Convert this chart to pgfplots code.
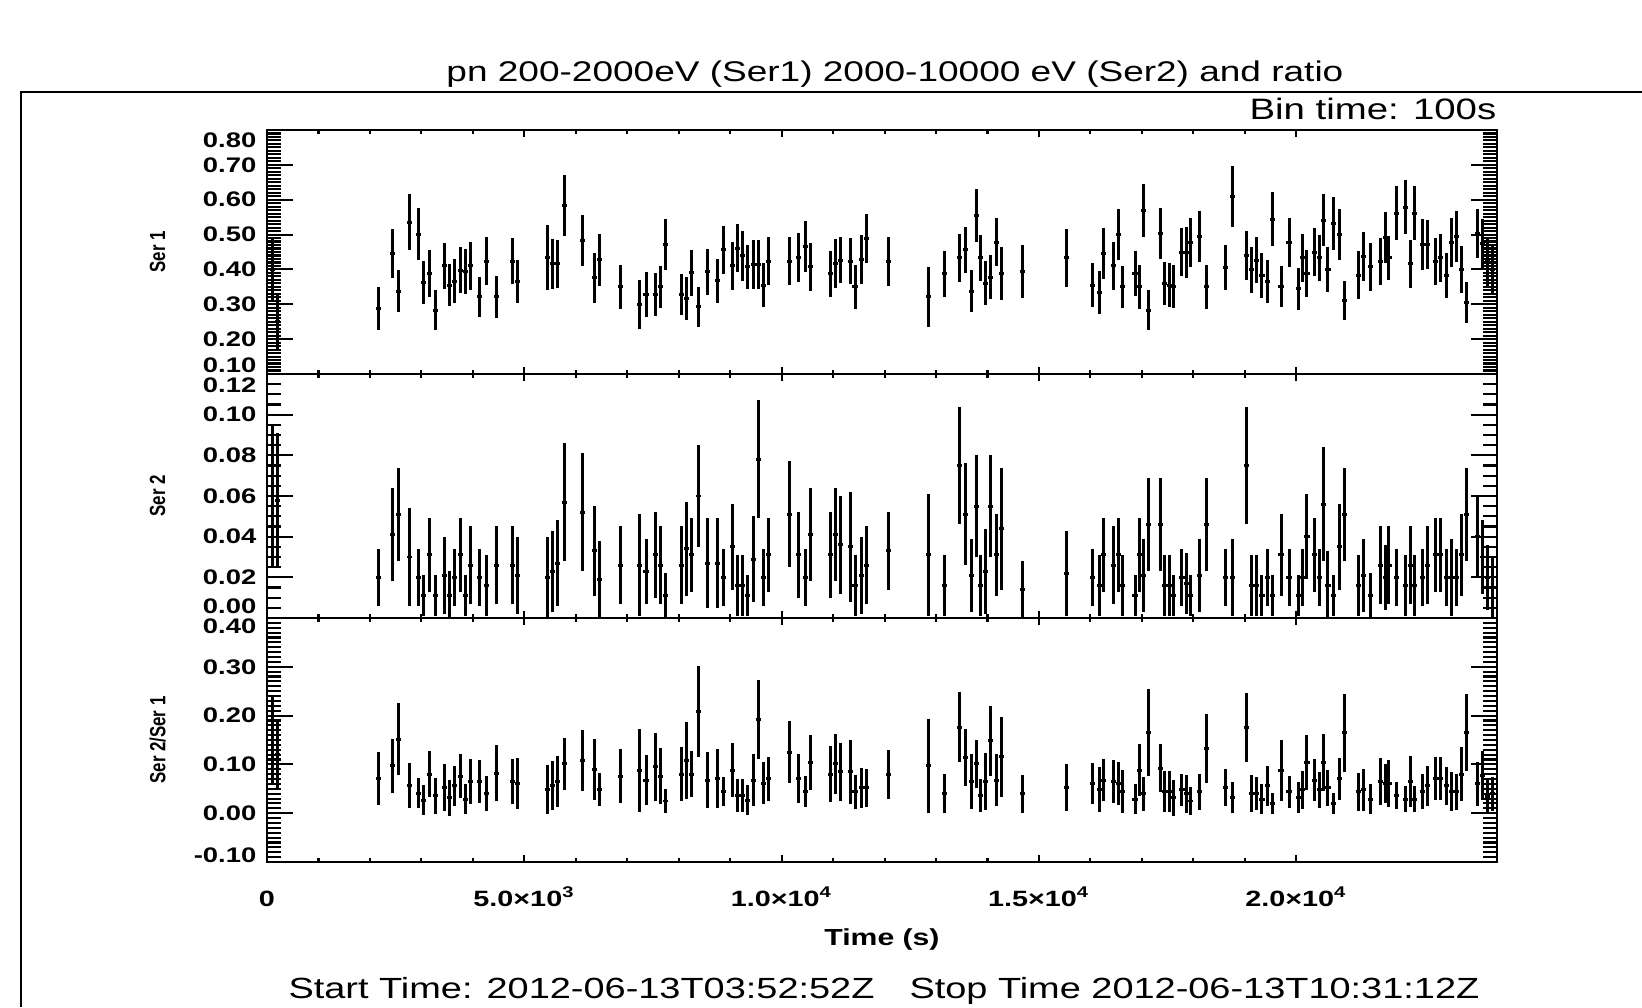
\documentclass[border=0pt]{standalone}
\usepackage{pgfplots}
\usepackage{pgfplotstable}
\usepackage{fontspec}
\pgfplotsset{compat=1.18}
\setmainfont[FakeStretch=1.3]{Liberation Sans}
\newfontfamily\rotfont{Liberation Sans}
\newcommand{\sh}[2]{\raisebox{#1}[\height][\depth]{#2}}

\pgfplotstableread{
t v1 e1 v2 e2 v3 e3
100 0.40 0.09 0.060 0.035 0.15 0.09
200 0.25 0.08 0.058 0.033 0.12 0.07
2174 0.288 0.061 0.020 0.014 0.071 0.054
2443 0.445 0.071 0.041 0.023 0.097 0.056
2548 0.338 0.059 0.051 0.023 0.152 0.073
2765 0.535 0.080 0.030 0.024 0.056 0.046
2939 0.501 0.074 0.020 0.014 0.041 0.031
3035 0.362 0.062 0.011 0.010 0.027 0.030
3165 0.388 0.068 0.031 0.018 0.080 0.047
3270 0.283 0.057 0.011 0.010 0.036 0.037
3443 0.410 0.065 0.021 0.019 0.052 0.048
3539 0.355 0.060 0.011 0.012 0.032 0.037
3635 0.366 0.063 0.020 0.014 0.056 0.041
3765 0.397 0.066 0.031 0.018 0.076 0.045
3861 0.394 0.065 0.011 0.010 0.029 0.030
3948 0.410 0.069 0.026 0.019 0.065 0.047
4130 0.321 0.057 0.020 0.014 0.065 0.045
4270 0.423 0.069 0.016 0.015 0.041 0.036
4452 0.321 0.059 0.026 0.019 0.082 0.058
4774 0.423 0.066 0.026 0.019 0.065 0.047
4861 0.366 0.062 0.021 0.019 0.061 0.053
5452 0.433 0.093 0.020 0.020 0.048 0.050
5548 0.416 0.072 0.023 0.020 0.056 0.050
5643 0.416 0.069 0.027 0.021 0.065 0.053
5783 0.584 0.088 0.057 0.029 0.101 0.053
6130 0.484 0.073 0.052 0.029 0.108 0.062
6365 0.376 0.071 0.033 0.022 0.090 0.063
6461 0.428 0.075 0.019 0.019 0.048 0.034
6861 0.350 0.063 0.026 0.019 0.076 0.055
7235 0.300 0.071 0.026 0.025 0.087 0.085
7365 0.328 0.064 0.023 0.016 0.068 0.051
7548 0.328 0.062 0.031 0.021 0.095 0.069
7643 0.350 0.060 0.026 0.019 0.076 0.058
7739 0.471 0.073 0.011 0.011 0.025 0.025
8052 0.328 0.060 0.026 0.019 0.080 0.056
8148 0.317 0.061 0.034 0.023 0.108 0.079
8243 0.390 0.065 0.031 0.018 0.080 0.047
8383 0.293 0.057 0.060 0.025 0.208 0.093
8557 0.394 0.066 0.027 0.022 0.068 0.057
8748 0.367 0.064 0.027 0.022 0.071 0.061
8878 0.456 0.068 0.020 0.014 0.044 0.030
9052 0.411 0.069 0.035 0.021 0.088 0.055
9148 0.461 0.068 0.016 0.015 0.036 0.034
9243 0.439 0.071 0.016 0.015 0.036 0.034
9330 0.407 0.063 0.011 0.010 0.027 0.030
9461 0.414 0.070 0.029 0.021 0.068 0.053
9557 0.414 0.070 0.078 0.029 0.192 0.080
9652 0.355 0.063 0.020 0.014 0.061 0.043
9739 0.423 0.069 0.031 0.018 0.071 0.045
10148 0.423 0.069 0.051 0.026 0.125 0.063
10330 0.435 0.070 0.031 0.021 0.071 0.051
10461 0.466 0.073 0.020 0.014 0.044 0.032
10557 0.407 0.069 0.041 0.023 0.104 0.057
10957 0.388 0.066 0.031 0.021 0.080 0.057
11052 0.416 0.070 0.041 0.023 0.101 0.061
11148 0.426 0.066 0.036 0.024 0.085 0.059
11330 0.423 0.066 0.035 0.027 0.085 0.066
11426 0.350 0.063 0.016 0.015 0.044 0.035
11557 0.428 0.070 0.021 0.019 0.052 0.041
11652 0.489 0.071 0.026 0.019 0.052 0.039
12070 0.423 0.070 0.033 0.019 0.080 0.050
12855 0.321 0.085 0.031 0.030 0.097 0.097
13170 0.388 0.066 0.016 0.015 0.040 0.040
13459 0.433 0.070 0.075 0.029 0.176 0.072
13578 0.456 0.067 0.051 0.025 0.114 0.058
13681 0.338 0.061 0.021 0.018 0.065 0.057
13778 0.555 0.077 0.055 0.025 0.101 0.049
13867 0.433 0.066 0.016 0.015 0.036 0.034
13956 0.361 0.064 0.023 0.021 0.065 0.059
14052 0.378 0.064 0.055 0.025 0.148 0.071
14178 0.478 0.069 0.031 0.020 0.068 0.053
14274 0.388 0.077 0.044 0.030 0.116 0.082
14681 0.394 0.076 0.014 0.014 0.040 0.039
15541 0.433 0.082 0.022 0.021 0.052 0.048
16037 0.355 0.063 0.020 0.014 0.060 0.042
16170 0.333 0.062 0.016 0.015 0.048 0.046
16259 0.445 0.073 0.031 0.018 0.068 0.043
16444 0.410 0.069 0.026 0.019 0.065 0.045
16541 0.500 0.073 0.031 0.018 0.060 0.044
16630 0.350 0.061 0.016 0.015 0.044 0.044
16867 0.388 0.065 0.011 0.010 0.029 0.030
16956 0.350 0.063 0.031 0.018 0.088 0.053
17037 0.568 0.076 0.021 0.018 0.040 0.035
17133 0.283 0.057 0.046 0.023 0.165 0.089
17356 0.504 0.073 0.046 0.023 0.092 0.049
17444 0.359 0.062 0.016 0.015 0.044 0.042
17533 0.355 0.062 0.016 0.015 0.044 0.042
17622 0.350 0.062 0.011 0.010 0.032 0.037
17778 0.449 0.069 0.020 0.014 0.048 0.033
17859 0.449 0.074 0.017 0.015 0.040 0.039
17941 0.478 0.070 0.011 0.010 0.025 0.028
18126 0.494 0.073 0.021 0.018 0.044 0.037
18259 0.350 0.063 0.046 0.023 0.133 0.071
18630 0.405 0.064 0.020 0.014 0.052 0.038
18763 0.610 0.088 0.020 0.019 0.032 0.031
19037 0.440 0.071 0.075 0.029 0.176 0.071
19126 0.399 0.066 0.016 0.015 0.040 0.038
19222 0.427 0.065 0.016 0.015 0.040 0.034
19333 0.383 0.064 0.011 0.010 0.029 0.030
19444 0.366 0.062 0.020 0.014 0.056 0.041
19533 0.544 0.077 0.011 0.010 0.020 0.021
19704 0.350 0.059 0.031 0.020 0.087 0.063
19859 0.478 0.070 0.020 0.014 0.044 0.033
20037 0.345 0.060 0.011 0.010 0.032 0.031
20126 0.433 0.068 0.020 0.014 0.048 0.039
20207 0.388 0.067 0.040 0.021 0.104 0.057
20348 0.449 0.069 0.031 0.018 0.068 0.043
20444 0.433 0.067 0.020 0.014 0.048 0.037
20533 0.541 0.075 0.056 0.028 0.104 0.058
20615 0.400 0.065 0.016 0.017 0.052 0.037
20719 0.533 0.076 0.011 0.010 0.020 0.021
20837 0.500 0.073 0.035 0.021 0.071 0.043
20941 0.310 0.056 0.051 0.023 0.165 0.080
21207 0.383 0.069 0.016 0.015 0.044 0.039
21311 0.437 0.069 0.021 0.018 0.048 0.043
21444 0.407 0.069 0.011 0.011 0.029 0.030
21630 0.422 0.068 0.026 0.019 0.065 0.048
21726 0.492 0.074 0.020 0.016 0.061 0.040
21800 0.433 0.064 0.026 0.019 0.060 0.048
21948 0.561 0.077 0.020 0.014 0.036 0.027
22126 0.579 0.077 0.016 0.015 0.029 0.027
22215 0.416 0.068 0.026 0.019 0.065 0.053
22304 0.561 0.077 0.016 0.015 0.029 0.027
22444 0.471 0.073 0.020 0.014 0.044 0.036
22541 0.471 0.071 0.026 0.019 0.056 0.041
22704 0.422 0.067 0.031 0.018 0.071 0.044
22800 0.433 0.070 0.031 0.018 0.071 0.044
22926 0.383 0.065 0.020 0.014 0.056 0.039
23015 0.478 0.070 0.020 0.019 0.044 0.040
23111 0.495 0.073 0.020 0.014 0.044 0.037
23207 0.400 0.067 0.031 0.020 0.080 0.055
23304 0.305 0.058 0.051 0.023 0.165 0.079
23520 0.503 0.070 0.040 0.020 0.060 0.045
23620 0.475 0.070 0.030 0.018 0.078 0.050
23720 0.422 0.070 0.020 0.016 0.035 0.035
23820 0.400 0.070 0.015 0.015 0.040 0.035
}\lcdata

\pgfplotsset{
  panel/.style={
    scale only axis, width=12.30cm, height=2.44cm,
    xmin=0, xmax=23900, scaled x ticks=false, scaled y ticks=false,
    xtick={0,5000,10000,15000,20000}, minor x tick num=4,
    xtick pos=both, ytick pos=both,
    tick align=inside,
    major tick length=0.26cm, minor tick length=0.14cm,
    xtick style={/pgfplots/major tick length=0.07cm,/pgfplots/minor tick length=0.04cm},
    axis line style={line width=0.8pt},
    every tick/.style={black, line width=0.6pt},
    yticklabel style={font=\fontsize{6}{7}\selectfont\bfseries, inner sep=0pt, xshift=-0.1cm},
    ylabel style={at={(axis description cs:-0.089,0.5)}, anchor=center,
      font=\fontsize{4.8}{5}\rotfont\bfseries},
    clip=true,
  },
  errs/.style={draw=none, mark=none,
    error bars/.cd, x dir=both, x fixed=50, y dir=both, y explicit,
    error mark=none, error bar style={draw=black, solid, line width=0.85pt}},
}

\begin{document}
\begin{tikzpicture}[x=1cm,y=1cm]
\path[use as bounding box] (0,0) rectangle (16.42,10.07);
\draw[line width=0.7pt] (0.21,0) -- (0.21,9.15) -- (16.42,9.15);

\node[font=\fontsize{8.1}{10}\selectfont] at (8.95,9.33) {pn 200-2000eV (Ser1) 2000-10000 eV (Ser2) and ratio};
\node[font=\fontsize{8.4}{10}\selectfont, anchor=east, inner sep=0pt] at (14.97,8.98) {Bin time: 100s};
\node[font=\fontsize{8.3}{10}\selectfont] at (8.84,0.16) {Start Time: 2012-06-13T03:52:52Z\hspace{1.2em}Stop Time 2012-06-13T10:31:12Z};

% top panel
\begin{axis}[panel, at={(2.67cm,6.33cm)}, anchor=south west,
  ymin=0.1, ymax=0.8,
  ytick={0.1,0.2,0.3,0.4,0.5,0.6,0.7,0.8}, minor y tick num=9,
  yticklabels={\sh{0.09cm}{0.10},0.20,0.30,0.40,0.50,0.60,0.70,\sh{-0.1cm}{0.80}},
  xticklabels={},
  ylabel={\scalebox{1}[1.3]{Ser 1}}]
\addplot[errs] table[x=t, y=v1, y error=e1]{\lcdata};
\end{axis}

% middle panel
\begin{axis}[panel, at={(2.67cm,3.89cm)}, anchor=south west,
  ymin=0, ymax=0.12,
  ytick={0,0.02,0.04,0.06,0.08,0.10,0.12}, minor y tick num=3,
  yticklabels={\sh{0.12cm}{0.00},0.02,0.04,0.06,0.08,0.10,\sh{-0.11cm}{0.12}},
  xticklabels={},
  ylabel={\scalebox{1}[1.3]{Ser 2}}]
\addplot[errs] table[x=t, y=v2, y error=e2]{\lcdata};
\end{axis}

% bottom panel
\begin{axis}[panel, at={(2.67cm,1.45cm)}, anchor=south west,
  ymin=-0.1, ymax=0.4,
  ytick={-0.1,0,0.1,0.2,0.3,0.4}, minor y tick num=9,
  yticklabels={\sh{0.07cm}{-0.10},0.00,0.10,0.20,0.30,\sh{-0.08cm}{0.40}},
  xticklabels={0,5.0×10\textsuperscript{3},1.0×10\textsuperscript{4},1.5×10\textsuperscript{4},2.0×10\textsuperscript{4}},
  xticklabel style={font=\fontsize{6.3}{7}\selectfont\bfseries, anchor=base, yshift=-0.44cm},
  xlabel={Time (s)},
  xlabel style={at={(axis description cs:0.5,0)}, anchor=center, yshift=-0.77cm,
    font=\fontsize{6.6}{8}\selectfont\bfseries},
  ylabel={\scalebox{1}[1.3]{Ser 2/Ser 1}}]
\addplot[errs] table[x=t, y=v3, y error=e3]{\lcdata};
\end{axis}
\end{tikzpicture}
\end{document}
